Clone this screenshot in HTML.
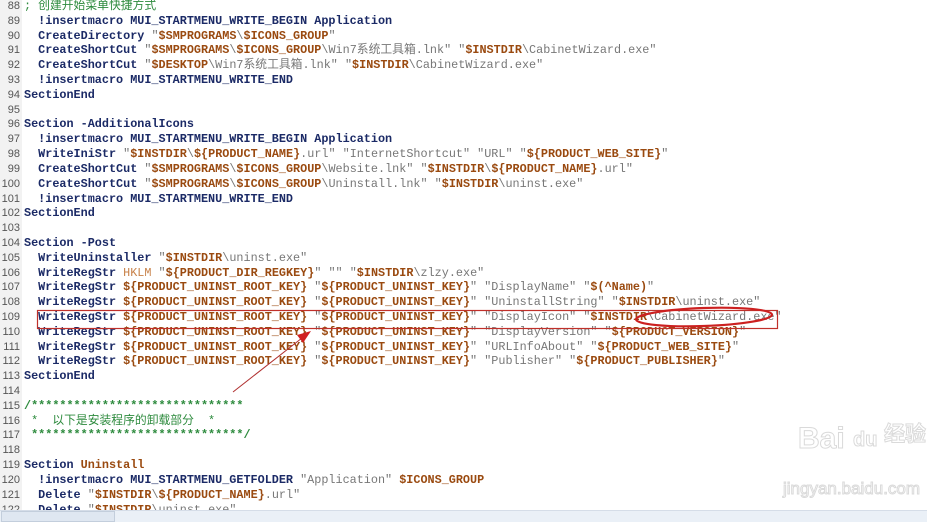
<!DOCTYPE html>
<html><head><meta charset="utf-8"><style>
html,body{margin:0;padding:0;background:#fff;width:927px;height:522px;overflow:hidden;position:relative}
.g{position:absolute;left:0;top:0;width:22px;height:510px;background:#f2f2f2}
.ln{position:absolute;left:0;width:20px;text-align:right;font:11px/14px "Liberation Sans",sans-serif;color:#555}
.c{position:absolute;left:24px;white-space:pre;font:bold 11.8px/14px "Liberation Mono","Noto Sans CJK SC",monospace;color:#1b2a66;height:14px}
.s{color:#777;font-weight:normal}
.v{color:#9a4a10}
.m{color:#2e8b3e;font-weight:normal}
.h{color:#c8824a;font-weight:normal}
.wm{position:absolute;white-space:nowrap;font-family:"Liberation Sans","Noto Sans CJK SC",sans-serif;color:#fff;-webkit-text-stroke:1px #dadada;line-height:1}
</style></head><body>
<div class="g"></div>
<div id="code"></div>
<script>
const L=[
[88,'<span class="m">; 创建开始菜单快捷方式</span>'],
[89,'  !insertmacro MUI_STARTMENU_WRITE_BEGIN Application'],
[90,'  CreateDirectory <span class="s">"</span><span class="v">$SMPROGRAMS</span><span class="s">\\</span><span class="v">$ICONS_GROUP</span><span class="s">"</span>'],
[91,'  CreateShortCut <span class="s">"</span><span class="v">$SMPROGRAMS</span><span class="s">\\</span><span class="v">$ICONS_GROUP</span><span class="s">\\Win7系统工具箱.lnk" "</span><span class="v">$INSTDIR</span><span class="s">\\CabinetWizard.exe"</span>'],
[92,'  CreateShortCut <span class="s">"</span><span class="v">$DESKTOP</span><span class="s">\\Win7系统工具箱.lnk" "</span><span class="v">$INSTDIR</span><span class="s">\\CabinetWizard.exe"</span>'],
[93,'  !insertmacro MUI_STARTMENU_WRITE_END'],
[94,'SectionEnd'],
[95,''],
[96,'Section -AdditionalIcons'],
[97,'  !insertmacro MUI_STARTMENU_WRITE_BEGIN Application'],
[98,'  WriteIniStr <span class="s">"</span><span class="v">$INSTDIR</span><span class="s">\\</span><span class="v">${PRODUCT_NAME}</span><span class="s">.url" "InternetShortcut" "URL" "</span><span class="v">${PRODUCT_WEB_SITE}</span><span class="s">"</span>'],
[99,'  CreateShortCut <span class="s">"</span><span class="v">$SMPROGRAMS</span><span class="s">\\</span><span class="v">$ICONS_GROUP</span><span class="s">\\Website.lnk" "</span><span class="v">$INSTDIR</span><span class="s">\\</span><span class="v">${PRODUCT_NAME}</span><span class="s">.url"</span>'],
[100,'  CreateShortCut <span class="s">"</span><span class="v">$SMPROGRAMS</span><span class="s">\\</span><span class="v">$ICONS_GROUP</span><span class="s">\\Uninstall.lnk" "</span><span class="v">$INSTDIR</span><span class="s">\\uninst.exe"</span>'],
[101,'  !insertmacro MUI_STARTMENU_WRITE_END'],
[102,'SectionEnd'],
[103,''],
[104,'Section -Post'],
[105,'  WriteUninstaller <span class="s">"</span><span class="v">$INSTDIR</span><span class="s">\\uninst.exe"</span>'],
[106,'  WriteRegStr <span class="h">HKLM</span> <span class="s">"</span><span class="v">${PRODUCT_DIR_REGKEY}</span><span class="s">" "" "</span><span class="v">$INSTDIR</span><span class="s">\\zlzy.exe"</span>'],
[107,'  WriteRegStr <span class="v">${PRODUCT_UNINST_ROOT_KEY}</span> <span class="s">"</span><span class="v">${PRODUCT_UNINST_KEY}</span><span class="s">" "DisplayName" "</span><span class="v">$(^Name)</span><span class="s">"</span>'],
[108,'  WriteRegStr <span class="v">${PRODUCT_UNINST_ROOT_KEY}</span> <span class="s">"</span><span class="v">${PRODUCT_UNINST_KEY}</span><span class="s">" "UninstallString" "</span><span class="v">$INSTDIR</span><span class="s">\\uninst.exe"</span>'],
[109,'  WriteRegStr <span class="v">${PRODUCT_UNINST_ROOT_KEY}</span> <span class="s">"</span><span class="v">${PRODUCT_UNINST_KEY}</span><span class="s">" "DisplayIcon" "</span><span class="v">$INSTDIR</span><span class="s">\\CabinetWizard.exe"</span>'],
[110,'  WriteRegStr <span class="v">${PRODUCT_UNINST_ROOT_KEY}</span> <span class="s">"</span><span class="v">${PRODUCT_UNINST_KEY}</span><span class="s">" "DisplayVersion" "</span><span class="v">${PRODUCT_VERSION}</span><span class="s">"</span>'],
[111,'  WriteRegStr <span class="v">${PRODUCT_UNINST_ROOT_KEY}</span> <span class="s">"</span><span class="v">${PRODUCT_UNINST_KEY}</span><span class="s">" "URLInfoAbout" "</span><span class="v">${PRODUCT_WEB_SITE}</span><span class="s">"</span>'],
[112,'  WriteRegStr <span class="v">${PRODUCT_UNINST_ROOT_KEY}</span> <span class="s">"</span><span class="v">${PRODUCT_UNINST_KEY}</span><span class="s">" "Publisher" "</span><span class="v">${PRODUCT_PUBLISHER}</span><span class="s">"</span>'],
[113,'SectionEnd'],
[114,''],
[115,'<span class="m" style="font-weight:bold">/******************************</span>'],
[116,'<span class="m"> *  以下是安装程序的卸载部分  *</span>'],
[117,'<span class="m" style="font-weight:bold"> ******************************/</span>'],
[118,''],
[119,'Section <span class="v">Uninstall</span>'],
[120,'  !insertmacro MUI_STARTMENU_GETFOLDER <span class="s">"Application"</span> <span class="v">$ICONS_GROUP</span>'],
[121,'  Delete <span class="s">"</span><span class="v">$INSTDIR</span><span class="s">\\</span><span class="v">${PRODUCT_NAME}</span><span class="s">.url"</span>'],
[122,'  Delete <span class="s">"</span><span class="v">$INSTDIR</span><span class="s">\\uninst.exe"</span>']
];
let h='';
L.forEach((l,i)=>{const t=-1+i*14.81;
h+=`<div class="ln" style="top:${t}px">${l[0]}</div><div class="c" style="top:${t}px">${l[1]}</div>`;});
document.getElementById('code').innerHTML=h;
</script>
<svg width="927" height="522" style="position:absolute;left:0;top:0">
<rect x="37.5" y="310.5" width="740" height="18" fill="none" stroke="#c0302a" stroke-width="1.2"/>
<ellipse cx="704" cy="317" rx="68" ry="9" fill="none" stroke="#cc2020" stroke-width="2.2" transform="rotate(-2 704 317)"/>
<line x1="233" y1="392" x2="302" y2="338" stroke="#b03030" stroke-width="1"/>
<polygon points="311,331 297,335 303,343" fill="#d02020"/>
</svg>
<div class="wm" style="left:798px;top:424px;font-size:30px;font-weight:bold">Bai</div>
<div class="wm" style="left:853px;top:430px;font-size:20px;font-weight:bold">du</div>
<div class="wm" style="left:884px;top:424px;font-size:21px;font-weight:bold">经验</div>
<div class="wm" style="left:783px;top:480px;font-size:17px">jingyan.baidu.com</div>
<div style="position:absolute;left:0;top:510px;width:927px;height:12px;background:#eaf0f7;border-top:1px solid #d5dde8"></div>
<div style="position:absolute;left:1px;top:511px;width:114px;height:11px;background:#dfe7f1;border:1px solid #c3cedc;box-sizing:border-box"></div>
</body></html>
